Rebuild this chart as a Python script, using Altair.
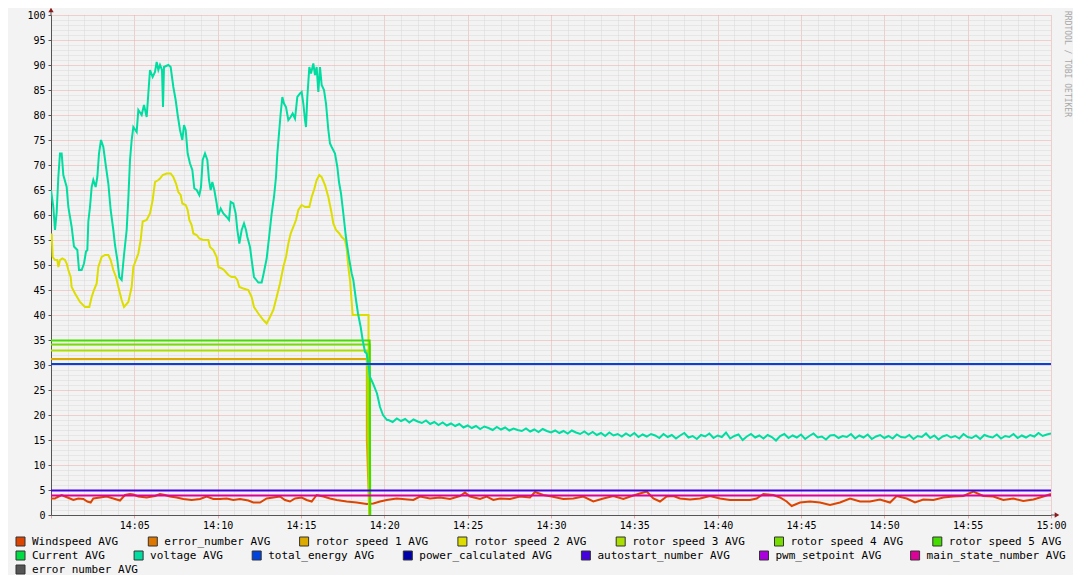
import altair as alt
import pandas as pd
import numpy as np

# ---------------- legend rows (names + colours) ----------------
row1_names = ["Windspeed AVG", "error_number AVG", "rotor speed 1 AVG", "rotor speed 2 AVG",
              "rotor speed 3 AVG", "rotor speed 4 AVG", "rotor speed 5 AVG"]
row1_colors = ["#dd4400", "#dd7700", "#ddaa00", "#dddd00", "#aadd00", "#77dd00", "#44dd00"]
row2_names = ["Current AVG", "voltage AVG", "total_energy AVG", "power_calculated AVG",
              "autostart_number AVG", "pwm_setpoint AVG", "main_state_number AVG"]
row2_colors = ["#00dd44", "#00dda0", "#0044dd", "#0000aa", "#4400dd", "#aa00dd", "#dd0099"]
row3_names = ["error_number AVG"]
row3_colors = ["#555555"]

# ---------------- series data (minutes after 14:00, value) ----------------
voltage_t = [0.00, 0.14, 0.24, 0.34, 0.44, 0.54, 0.64, 0.74, 0.94, 1.04, 1.24, 1.38, 1.58, 1.68, 1.84,
             1.98, 2.10, 2.18, 2.24, 2.34, 2.44, 2.54, 2.68, 2.78, 2.88, 3.00, 3.14, 3.30, 3.44, 3.58,
             3.74, 3.84, 3.98, 4.10, 4.24, 4.38, 4.54, 4.64, 4.74, 4.84, 4.94, 5.14, 5.24, 5.44, 5.58,
             5.74, 5.84, 5.94, 6.10, 6.24, 6.34, 6.44, 6.54, 6.66, 6.72, 6.78, 7.04, 7.18, 7.34, 7.48,
             7.60, 7.74, 7.88, 7.98, 8.08, 8.20, 8.34, 8.48, 8.60, 8.74, 8.90, 9.00, 9.10, 9.24, 9.38,
             9.48, 9.58, 9.68, 9.80, 9.94, 10.04, 10.18, 10.34, 10.54, 10.68, 10.78, 10.94, 11.08, 11.18,
             11.30, 11.44, 11.58, 11.70, 11.78, 11.94, 12.04, 12.18, 12.44, 12.64, 12.74, 12.94, 13.10,
             13.24, 13.38, 13.50, 13.58, 13.68, 13.78, 13.88, 13.98, 14.10, 14.24, 14.38, 14.50, 14.64,
             14.78, 14.94, 15.04, 15.14, 15.24, 15.30, 15.38, 15.50, 15.60, 15.74, 15.84, 15.94, 16.04,
             16.14, 16.24, 16.38, 16.50, 16.64, 16.74, 16.84, 17.04, 17.18, 17.28, 17.40, 17.54, 17.68,
             17.78, 17.90, 18.04, 18.14, 18.30, 18.42, 18.58, 18.70, 18.84, 18.94, 19.04, 19.14, 19.32,
             19.56, 19.74, 19.92, 20.16]
voltage_v = [65.0, 61.6, 57.0, 60.5, 67.6, 72.3, 72.3, 68.0, 65.6, 61.6, 57.6, 53.7, 53.0, 49.0, 49.0,
             50.3, 52.7, 53.0, 58.7, 61.6, 65.6, 67.0, 65.6, 67.6, 72.3, 75.0, 73.6, 69.6, 66.3, 61.0,
             57.0, 54.0, 51.0, 47.6, 47.0, 52.0, 57.0, 63.3, 71.0, 75.0, 77.6, 76.6, 81.0, 80.0, 82.0,
             79.6, 84.3, 89.0, 87.6, 88.6, 90.6, 89.0, 90.0, 89.0, 81.6, 89.6, 90.0, 89.6, 85.6, 83.0,
             80.0, 77.0, 75.0, 78.0, 77.0, 72.3, 70.3, 69.0, 65.3, 65.0, 64.0, 65.6, 71.0, 72.3, 71.0,
             67.0, 65.0, 66.6, 65.0, 62.3, 60.0, 61.3, 60.3, 59.6, 59.0, 62.6, 62.3, 60.3, 57.0,
             54.3, 57.0, 58.3, 57.0, 55.6, 53.6, 51.0, 47.6, 46.5, 46.5, 48.0, 51.3, 56.0,
             60.3, 63.6, 67.6, 72.3, 76.3, 80.3, 83.6, 82.3, 81.6, 79.0, 79.6, 80.3, 79.3,
             83.6, 84.3, 84.6, 82.3, 79.0, 77.6, 83.6, 89.6, 88.3, 90.3, 88.0, 89.6, 84.6,
             89.6, 86.0, 85.0, 82.3, 77.0, 74.3, 73.6, 72.3, 69.6, 66.6, 64.3, 60.3, 56.0,
             53.6, 51.0, 48.3, 47.0, 43.0, 40.3, 37.6, 35.0, 32.6, 32.3, 30.3, 27.6, 26.3,
             24.3, 21.6, 20.0, 19.0]
voltage_tail_v = [19.0, 18.6, 19.3, 18.8, 19.2, 18.5, 19.1, 18.7,
                  18.4, 18.9, 18.2, 18.6, 18.0, 18.5, 17.9, 18.3,
                  17.8, 18.2, 17.5, 17.9, 17.4, 17.8, 17.2, 17.7,
                  17.4, 17.0, 17.6, 17.1, 17.5, 16.9, 17.3, 17.0,
                  16.8, 17.3, 16.7, 17.1, 16.6, 17.2, 16.8, 16.5,
                  16.9, 16.4, 16.8, 16.3, 16.9, 16.5, 16.2, 16.7,
                  16.1, 16.6, 16.0, 16.4, 15.8, 16.5, 15.9, 16.2,
                  15.7, 16.3, 15.8, 16.4, 15.6, 16.1, 15.7, 16.2,
                  15.9, 15.4, 16.2, 15.6, 16.0, 15.3, 15.9, 16.4, 15.5, 15.8, 15.2, 16.0,
                  15.7, 16.3, 15.4, 15.9, 15.6, 16.5, 15.3, 15.8, 16.1, 15.0, 15.7, 16.2,
                  15.5, 15.9, 15.3, 16.0, 15.6, 14.9, 15.8, 16.2, 15.4, 15.9, 15.5, 16.1,
                  15.2, 15.8, 16.3, 15.5, 15.7, 15.1, 15.9, 16.0, 15.4, 15.8, 15.6, 16.2,
                  15.3, 15.9, 15.5, 16.1, 15.2, 15.7, 16.0, 15.4, 15.8, 15.3, 16.1, 15.6,
                  15.5, 16.0, 15.2, 15.8, 15.6, 16.3, 15.4, 15.9, 15.1, 15.7, 16.0, 15.5,
                  15.8, 15.3, 16.2, 15.6, 15.4, 15.9, 15.2, 16.0, 15.7, 15.5, 16.1, 15.3,
                  15.8, 15.6, 16.2, 15.4, 15.9, 15.5, 16.0, 15.7, 16.4, 15.8, 16.1, 16.3]
voltage_tail_t = [20.25 + 0.25 * k for k in range(len(voltage_tail_v))]

rotor2_t = [0.04, 0.10, 0.24, 0.38, 0.44, 0.54, 0.68, 0.84, 0.94, 1.04, 1.18, 1.24, 1.44, 1.74, 2.04,
            2.30, 2.44, 2.58, 2.74, 2.84, 3.04, 3.24, 3.44, 3.58, 3.74, 3.90, 4.04, 4.24, 4.38, 4.64,
            4.84, 4.94, 5.10, 5.24, 5.38, 5.50, 5.74, 5.94, 6.10, 6.24, 6.44, 6.54, 6.70, 6.94, 7.18,
            7.34, 7.50, 7.64, 7.78, 7.88, 8.08, 8.20, 8.30, 8.44, 8.54, 8.74, 8.90, 9.14, 9.44, 9.54,
            9.74, 9.94, 10.04, 10.24, 10.38, 10.64, 10.84, 11.04, 11.18, 11.30, 11.54, 11.84, 12.04,
            12.18, 12.44, 12.74, 12.94, 13.14, 13.34, 13.54, 13.74, 13.94, 14.10, 14.24, 14.38, 14.54,
            14.70, 14.84, 15.04, 15.24, 15.50, 15.64, 15.78, 15.94, 16.10, 16.24, 16.44, 16.64, 16.84,
            16.94, 17.10, 17.30, 17.44, 17.64, 17.74, 17.84, 17.94, 18.10, 19.05, 19.05, 19.12]
rotor2_v = [56.3, 51.6, 51.0, 51.0, 49.6, 51.0, 51.3, 51.0, 50.3, 49.0, 47.6, 45.6, 44.3, 42.6, 41.6,
            41.6, 43.6, 45.0, 46.3, 49.6, 51.6, 52.0, 52.0, 51.0, 49.0, 47.6, 45.6, 43.0, 41.6, 42.6,
            45.6, 49.6, 51.0, 52.3, 55.0, 58.7, 59.0, 60.3, 63.0, 66.6, 67.0, 67.3, 68.0, 68.3, 68.3,
            67.6, 66.3, 64.6, 64.0, 62.3, 62.0, 61.0, 59.0, 58.0, 56.3, 56.0, 55.3, 55.0, 55.0, 53.6,
            53.0, 51.6, 49.6, 49.3, 49.0, 48.0, 47.6, 47.6, 47.0, 45.6, 45.3, 45.0, 43.6,
            41.6, 40.3, 39.0, 38.3, 39.6, 41.0, 43.6, 46.3, 49.6, 51.6, 54.3, 56.3, 57.6,
            59.0, 61.0, 62.0, 61.6, 61.6, 63.6, 65.0, 67.0, 68.0, 67.6, 66.0, 63.6, 60.3,
            58.3, 57.0, 56.3, 55.6, 55.0, 53.3, 49.6, 47.0, 40.0, 40.0, 24.0, 0.0]

rotor1_t = [0.0, 18.95, 18.95, 19.10]
rotor1_v = [31.2, 31.2, 15.0, 0.0]
rotor3_t = [0.0, 18.95, 19.12]
rotor3_v = [32.9, 32.9, 0.0]
rotor4_t = [0.0, 19.12, 19.15]
rotor4_v = [34.1, 34.1, 0.0]
rotor5_t = [0.0, 19.12, 19.15]
rotor5_v = [34.9, 34.9, 0.0]

total_energy_t = [0.0, 60.0]
total_energy_v = [30.2, 30.2]
autostart_t = [0.0, 60.0]
autostart_v = [4.9, 4.9]
main_state_t = [0.0, 60.0]
main_state_v = [3.9, 3.9]

wind_t = [0.0, 0.24, 0.34, 0.64, 0.84, 1.14, 1.34, 1.64, 1.94, 2.18, 2.38, 2.54, 2.94, 3.34, 3.74, 4.14,
          4.44, 4.74, 4.94, 5.24, 5.74, 6.24, 6.54, 6.84, 7.14, 7.54, 7.94, 8.44, 8.94, 9.34, 9.74,
          10.14, 10.54, 10.94, 11.34, 11.84, 12.14, 12.54, 12.94, 13.34, 13.74, 14.04, 14.34, 14.64,
          15.04, 15.34, 15.64, 15.94, 16.34, 16.74, 17.14, 17.74, 18.34, 18.94, 19.34, 19.74, 20.14,
          20.74, 21.74, 22.14, 22.74, 23.34, 23.94, 24.54, 24.84, 25.14, 25.74, 26.14, 26.54, 26.94,
          27.54, 28.14, 28.74, 29.04, 29.54, 30.04, 30.74, 31.34, 31.94, 32.54, 33.14, 33.74, 34.34,
          34.94, 35.74, 36.14, 36.54, 36.94, 37.34, 37.74, 38.34, 38.94, 39.54, 40.14, 40.74, 41.34,
          41.94, 42.34, 42.74, 43.34, 43.74, 44.14, 44.44, 44.94, 45.54, 46.14, 46.74, 47.34, 47.94,
          48.54, 49.14, 49.74, 50.34, 50.74, 51.34, 51.84, 52.34, 52.94, 53.54, 54.14, 54.74, 55.34,
          55.94, 56.54, 57.14, 57.74, 58.34, 58.94, 59.54, 60.0]
wind_v = [3.3, 3.3, 3.5, 4.0, 3.7, 3.3, 3.0, 3.3, 3.2, 2.7, 2.5, 3.3, 3.5, 3.7, 3.3, 2.9,
          4.0, 4.2, 4.1, 3.7, 3.5, 3.8, 4.2, 4.0, 3.7, 3.5, 3.2, 3.0, 3.2, 3.7, 3.2,
          3.2, 3.3, 3.0, 3.2, 2.9, 2.5, 2.5, 3.3, 3.5, 3.7, 3.0, 2.7, 3.3,
          3.5, 3.0, 2.7, 4.0, 3.7, 3.3, 3.0, 2.7, 2.5, 2.2, 2.3, 2.7, 3.0,
          3.3, 3.0, 3.7, 3.3, 3.5, 3.2, 3.8, 4.5, 3.7, 3.2, 3.7, 3.0, 3.3,
          3.2, 3.7, 3.5, 4.6, 4.0, 3.7, 3.2, 3.3, 3.7, 2.7, 3.3, 3.8, 3.2,
          3.9, 4.7, 3.3, 2.7, 3.7, 3.8, 3.3, 3.1, 3.3, 3.8, 3.3, 3.0, 3.0,
          3.0, 3.3, 4.2, 4.0, 3.5, 2.7, 1.8, 2.5, 2.7, 2.5, 2.0, 2.5, 3.3,
          2.7, 2.7, 3.1, 2.5, 3.8, 3.3, 2.5, 3.1, 3.0, 3.5, 3.7, 3.8, 4.7,
          3.8, 3.7, 3.0, 3.3, 2.8, 3.1, 3.7, 4.2]

x_tick_values = list(range(0, 61))
y_tick_values = list(range(0, 101))

# ---------------- styling ----------------
MONO = "DejaVu Sans Mono"
GRID = "#d8d8d8"
MGRID = "#eaa8a8"
AXIS = "#555555"
ARROW = "#8b1a1a"

xscale = alt.Scale(domain=[0, 60], nice=False, zero=False)
yscale = alt.Scale(domain=[0, 100], nice=False, zero=False)

x_axis = alt.Axis(
    values=x_tick_values, title=None, grid=True,
    gridColor={"condition": {"test": "datum.value % 5 === 0", "value": MGRID}, "value": GRID},
    gridDash=[1, 1], gridWidth=1,
    labelExpr="datum.value % 5 === 0 && datum.value > 0 ? (datum.value === 60 ? '15:00' : '14:' + (datum.value < 10 ? '0' : '') + datum.value) : ''",
    labelFont=MONO, labelFontSize=10, labelColor="#000000", labelPadding=2,
    labelOverlap=False, labelFlush=False, labelAngle=0,
    tickSize=3,
    tickColor={"condition": {"test": "datum.value % 5 === 0", "value": MGRID}, "value": "transparent"},
    domainColor=AXIS, domainWidth=1,
)
y_axis = alt.Axis(
    values=y_tick_values, title=None, grid=True,
    gridColor={"condition": {"test": "datum.value % 5 === 0", "value": MGRID}, "value": GRID},
    gridDash=[1, 1], gridWidth=1,
    labelExpr="datum.value % 5 === 0 ? datum.label : ''",
    labelFont=MONO, labelFontSize=10, labelColor="#000000", labelPadding=3,
    labelOverlap=False, labelFlush=False,
    tickSize=3,
    tickColor={"condition": {"test": "datum.value % 5 === 0", "value": AXIS}, "value": "transparent"},
    domainColor=AXIS, domainWidth=1,
)

# draw order = legend order
draw_list = [
    ("Windspeed AVG", row1_colors[0], wind_t, wind_v),
    ("rotor speed 1 AVG", row1_colors[2], rotor1_t, rotor1_v),
    ("rotor speed 2 AVG", row1_colors[3], rotor2_t, rotor2_v),
    ("rotor speed 3 AVG", row1_colors[4], rotor3_t, rotor3_v),
    ("rotor speed 4 AVG", row1_colors[5], rotor4_t, rotor4_v),
    ("rotor speed 5 AVG", row1_colors[6], rotor5_t, rotor5_v),
    ("voltage AVG", row2_colors[1], voltage_t + voltage_tail_t, voltage_v + voltage_tail_v),
    ("total_energy AVG", row2_colors[2], total_energy_t, total_energy_v),
    ("autostart_number AVG", row2_colors[4], autostart_t, autostart_v),
    ("main_state_number AVG", row2_colors[6], main_state_t, main_state_v),
]

X = alt.X("t:Q", scale=xscale, axis=x_axis)
Y = alt.Y("v:Q", scale=yscale, axis=y_axis)

layers = []
for name, color, t, v in draw_list:
    df = pd.DataFrame({"t": t, "v": v, "i": list(range(len(t))), "series": name})
    layers.append(
        alt.Chart(df).mark_line(color=color, strokeWidth=2, clip=True).encode(
            x=X, y=Y, order=alt.Order("i:Q"),
        )
    )

def legend_layer(names, colors, col_pad, ly):
    df = pd.DataFrame({"series": names})
    return alt.Chart(df).mark_square(opacity=0, size=0).encode(
        fill=alt.Fill(
            "series:N",
            scale=alt.Scale(domain=names, range=colors),
            legend=alt.Legend(
                orient="none", legendX=-36, legendY=ly, direction="horizontal", title=None,
                symbolType="square", symbolSize=81, symbolStrokeColor="#333333",
                symbolStrokeWidth=1, symbolOpacity=1,
                labelFont=MONO, labelFontSize=11, labelColor="#000000", labelOffset=6,
                columnPadding=col_pad, padding=0, labelLimit=0, rowPadding=0,
            ),
        )
    )

layers.append(legend_layer(row1_names, row1_colors, 27.3, 521))
layers.append(legend_layer(row2_names, row2_colors, 27.1, 535))
layers.append(legend_layer(row3_names, row3_colors, 25.0, 549))

# axis extensions and arrows
origin_top = pd.DataFrame({"t": [0.0], "v": [100.0]})
origin_right = pd.DataFrame({"t": [60.0], "v": [0.0]})
layers.append(
    alt.Chart(origin_top).mark_rule(color=AXIS, strokeWidth=1).encode(x=X, y=Y, y2=alt.value(-5))
)
layers.append(
    alt.Chart(origin_right).mark_rule(color=AXIS, strokeWidth=1).encode(x=X, y=Y, x2=alt.value(1004))
)
layers.append(
    alt.Chart(origin_top).mark_point(
        shape="triangle-up", filled=True, color=ARROW, size=28, opacity=1, yOffset=-5
    ).encode(x=X, y=Y)
)
layers.append(
    alt.Chart(origin_right).mark_point(
        shape="triangle-right", filled=True, color=ARROW, size=28, opacity=1, xOffset=6
    ).encode(x=X, y=Y)
)

# vertical watermark text
layers.append(
    alt.Chart(pd.DataFrame({"txt": ["RRDTOOL / TOBI OETIKER"]})).mark_text(
        angle=90, align="left", baseline="middle", font=MONO, fontSize=8, color="#a8a8a8"
    ).encode(text="txt:N", x=alt.value(1016), y=alt.value(-4))
)

chart = alt.layer(*layers).resolve_scale(fill="independent").properties(
    width=1000, height=500,
    autosize=alt.AutoSizeParams(type="none"),
    padding={"left": 43, "top": 7, "right": 22, "bottom": 60},
    background="#f3f3f3",
).configure_view(stroke=None, fill="white")

chart.save("out.html", embed_options={"renderer": "svg", "actions": False})
